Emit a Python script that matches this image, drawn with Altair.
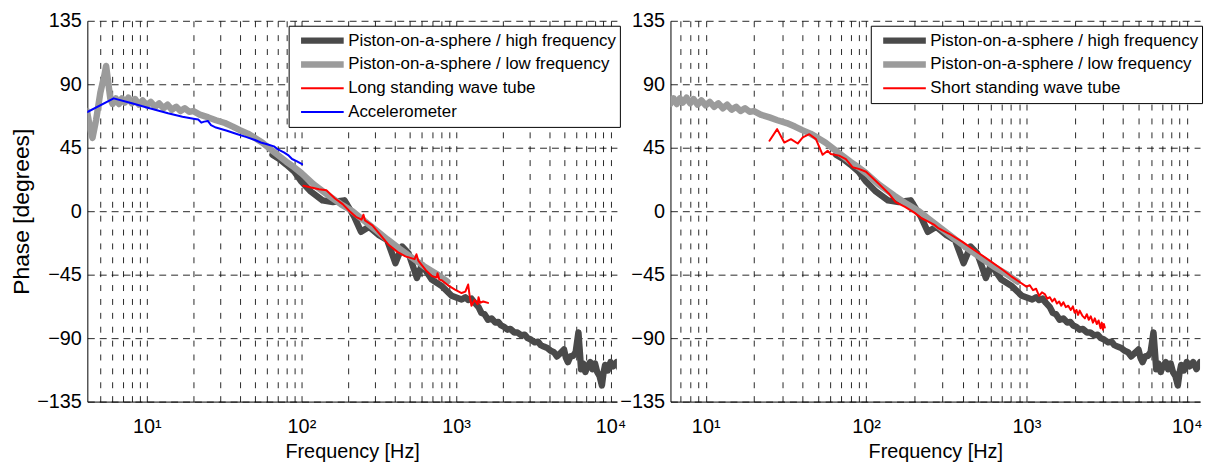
import altair as alt
import pandas as pd

# ---------------- data ----------------
HF = "Piston-on-a-sphere / high frequency"
LF = "Piston-on-a-sphere / low frequency"
LONG = "Long standing wave tube"
ACC = "Accelerometer"
SHORT = "Short standing wave tube"

hf_freq = [65, 72, 80, 90, 100, 115, 137, 160, 190, 220, 243, 274, 318, 359, 406, 448, 494, 559, 602,
           698, 809, 937, 1087, 1150, 1200, 1260, 1324, 1400, 1459, 1530, 1612, 1700, 1800, 1880, 1959,
           2050, 2150, 2250, 2387, 2500, 2650, 2780, 2909, 3050, 3236, 3400, 3540, 3700, 3900, 4100,
           4306, 4500, 4700, 4999, 5150, 5300, 5500, 5727, 5950, 6200, 6450, 6650, 6871, 7100, 7399,
           7650, 7938, 8200, 8500, 8796, 9000, 9230, 9400, 9600, 9800, 10000, 10400, 10965, 11500, 12100]
hf_phase = [40, 37, 33, 28, 21, 14, 7.7, 6.5, 7.7, -4, -14.6, -11, -17, -20.5, -36.8, -25, -30, -47.3, -38,
            -48.5, -53, -60, -62.6, -61, -63, -62, -65, -68, -72, -73, -77, -76, -79, -78.5, -81,
            -82, -84, -83.5, -86, -86, -88, -87.5, -90, -91, -93, -92.5, -95, -96, -97, -99,
            -100, -103, -101, -98, -104, -107, -103, -102.5, -100, -86, -112, -108, -114, -110, -107,
            -112, -108, -114, -117, -123.5, -115, -109, -113, -113, -110, -107, -110, -107, -112, -107]

lf_freq = [4.1, 4.3, 4.45, 4.7, 5.0, 5.3, 5.45, 5.6, 5.8, 6.0, 6.3, 6.6, 6.9, 7.2, 7.6, 8.0, 8.4, 8.9, 9.4,
           10, 10.6, 11.3, 12, 12.8, 13.6, 14.5, 15.5, 16.5, 17.6, 18.8, 20, 22, 25, 28, 32, 36, 40, 45,
           50, 56, 63, 70, 80, 90, 100, 120, 150, 180, 214, 250, 300, 360, 430, 520, 620, 750, 880]
lf_phase = [71, 58, 52, 65, 84, 96, 103, 93, 80, 76, 80, 76, 80, 77, 80.5, 76.5, 79.5, 75.5, 78.5,
            75, 77.5, 74, 76.5, 73, 75.5, 72, 74, 71, 73, 70.5, 71, 68.5, 66.5, 64.5, 62.5, 60, 57.5, 55,
            52, 48.5, 44, 40, 35, 31, 27, 19, 11, 5, 0, -6, -13, -20, -26.5, -33, -39, -44.5, -50]

long_freq = [103, 130, 145, 165, 185, 205, 225, 245, 252, 258, 288, 320, 368, 420, 471, 540, 555, 570,
             640, 698, 750, 760, 780, 809, 900, 986, 1087, 1150, 1199, 1230, 1260, 1320, 1380, 1400,
             1430, 1500, 1612]
long_phase = [18, 15.5, 14.8, 9, 5, 0, -4, -6, -2.5, -6.5, -10, -16, -24, -29, -32, -34, -30.5, -35,
              -42, -46, -47, -44, -48.5, -49, -53, -55.6, -58, -57, -52, -61, -67, -63, -66, -61,
              -65, -64, -65]

acc_freq = [4.12, 6.1, 8, 10, 13.7, 17, 20, 21.5, 22.5, 23.5, 24.8, 26, 28, 33, 38.6, 43.7, 50, 54.6,
            60, 66.4, 70, 77, 82, 87, 93, 101]
acc_phase = [70.3, 80, 76.5, 73.5, 69.5, 67, 65.6, 65, 62.8, 63.5, 64, 61, 59.3, 57, 54.6, 52.7, 50.5,
             48.7, 47.5, 46, 44, 41.7, 39.8, 37, 35.5, 33.3]

short_freq = [25, 27.9, 30.9, 34, 37.5, 40.3, 44.3, 48.7, 53.6, 57.6, 60.3, 67.9, 74.8, 82.3, 90, 100,
              120, 140, 153, 175, 200, 222, 246, 265, 284, 330, 397, 480, 581, 700, 800, 892, 1000,
              1050, 1100, 1150, 1200, 1250, 1306, 1350, 1400, 1450, 1500, 1550, 1600, 1650, 1700, 1760,
              1824, 1890, 1950, 2000, 2050, 2100, 2150, 2230, 2317, 2380, 2450, 2520, 2600, 2670, 2750,
              2820, 2900, 2950, 3000, 3040, 3083]
short_phase = [50, 58.2, 48.7, 51.1, 48, 52.3, 54.6, 51.1, 40, 42.9, 40.6, 39.4, 37, 31.2, 30, 28,
               19.5, 12, 6.5, 3, -1, -5, -7.5, -9.5, -12.2, -16, -21.6, -28, -34.5, -41, -46, -49.7,
               -53.5, -52.5, -56, -55, -60, -57.5, -59, -62, -61, -64, -62, -65.5, -64, -67, -64.5, -68,
               -67, -70, -67.5, -72, -70, -73.5, -70.5, -74, -76, -73, -77, -74.5, -79, -76, -80,
               -77.5, -83, -79, -84, -80, -82.5]

x_ticks = [5, 6, 7, 8, 9, 10, 20, 30, 40, 50, 60, 70, 80, 90, 100, 200, 300, 400, 500, 600,
           700, 800, 900, 1000, 2000, 3000, 4000, 5000, 6000, 7000, 8000, 9000, 10000]
y_ticks = [-135, -90, -45, 0, 45, 90, 135]

left_domain = [4.12, 11000]
right_domain = [6.03, 12100]

COLORS = {HF: "#4a4a4a", LF: "#9b9b9b", LONG: "#ff0000", ACC: "#0000ff", SHORT: "#ff0000"}
WIDTHS = {HF: 6.5, LF: 6.5, LONG: 2, ACC: 2, SHORT: 2}

FONT = "Liberation Sans"


def frame(name, freq, phase):
    return pd.DataFrame({"f": freq, "p": phase, "s": name})


label_expr = ("datum.value == 10 ? '10\u00b9' : datum.value == 100 ? '10\u00b2' : "
              "datum.value == 1000 ? '10\u00b3' : datum.value == 10000 ? '10\u2074' : ''")


def panel(series, domain, ytitle, legend_x):
    names = [s[0] for s in series]
    cscale = alt.Scale(domain=names, range=[COLORS[n] for n in names])
    wscale = alt.Scale(type="ordinal", domain=names, range=[WIDTHS[n] for n in names])
    legend = alt.Legend(
        title=None, orient="none", legendX=legend_x, legendY=5,
        strokeColor="black", fillColor="white", padding=3, cornerRadius=0,
        symbolType="stroke", symbolSize=1849, symbolOffset=6,
        labelFont=FONT, labelFontSize=17, labelColor="black", labelOffset=1,
        labelLimit=500, rowPadding=0, clipHeight=24,
    )
    ticks = [t for t in x_ticks if domain[0] <= t <= domain[1]]
    xaxis = alt.Axis(values=ticks, labelExpr=label_expr, grid=True, gridDash=[6, 8],
                     gridColor="#000000", gridOpacity=0.85, tickSize=0, labelPadding=15,
                     labelFontSize=20, labelFont=FONT, labelColor="black", labelFlush=False,
                     labelOverlap=False, title="Frequency [Hz]", titleFont=FONT, titleFontSize=20,
                     titleFontWeight="normal", titleColor="black", titlePadding=5,
                     domainColor="black", domainWidth=1)
    yaxis_kw = dict(values=y_ticks, grid=True, gridDash=[7, 5], gridColor="#000000", gridOpacity=0.85,
                    tickSize=0, labelPadding=6, labelFontSize=20, labelFont=FONT, labelColor="black",
                    domainColor="black", domainWidth=1, labelFlush=False)
    if ytitle:
        yaxis = alt.Axis(title=ytitle, titleFont=FONT, titleFontSize=23, titleFontWeight="normal",
                         titleColor="black", titlePadding=3, **yaxis_kw)
    else:
        yaxis = alt.Axis(title=None, **yaxis_kw)
    layers = []
    for name, fr, ph in series:
        layers.append(
            alt.Chart(frame(name, fr, ph)).mark_line(clip=True, strokeJoin="round", strokeCap="round").encode(
                x=alt.X("f:Q", scale=alt.Scale(type="log", domain=domain, nice=False), axis=xaxis),
                y=alt.Y("p:Q", scale=alt.Scale(domain=[-135, 135], nice=False), axis=yaxis),
                color=alt.Color("s:N", scale=cscale, legend=legend),
                strokeWidth=alt.StrokeWidth("s:N", scale=wscale, legend=legend),
            )
        )
    return alt.layer(*layers).properties(width=534, height=384)


left = panel([(HF, hf_freq, hf_phase), (LF, lf_freq, lf_phase), (LONG, long_freq, long_phase),
              (ACC, acc_freq, acc_phase)], left_domain, "Phase [degrees]", 203)
right = panel([(HF, hf_freq, hf_phase), (LF, lf_freq, lf_phase), (SHORT, short_freq, short_phase)],
              right_domain, None, 202)

chart = alt.hconcat(left, right, spacing=54, bounds="flush").resolve_scale(
    color="independent", strokeWidth="independent"
).resolve_legend(color="independent", strokeWidth="independent").configure_view(
    strokeWidth=0
).properties(padding={"left": 2, "top": 1, "right": 2, "bottom": 0}, background="white")

chart.save("out.html", embed_options={"renderer": "svg", "actions": False})
